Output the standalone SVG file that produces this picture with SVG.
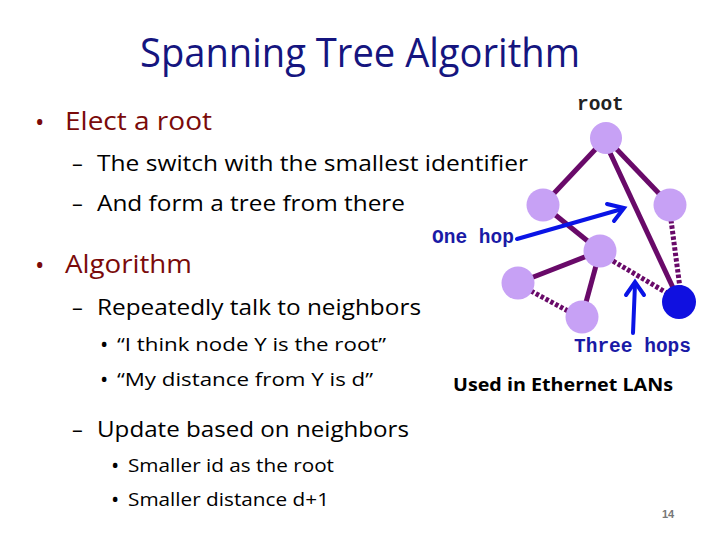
<svg xmlns="http://www.w3.org/2000/svg" width="720" height="540" viewBox="0 0 720 540">
<style>
.title{font-family:"Open Sans","Liberation Sans",sans-serif;font-size:40px;fill:#15157f}
.l1{font-family:"Open Sans","Liberation Sans",sans-serif;font-size:25px;fill:#7a0a0a}
.l2{font-family:"Open Sans","Liberation Sans",sans-serif;font-size:21.5px;fill:#000}
.l3{font-family:"Open Sans","Liberation Sans",sans-serif;font-size:18px;fill:#000}
.b3{font-family:"Open Sans","Liberation Sans",sans-serif;font-size:22px;fill:#000}
.mono{font-family:"Liberation Mono","Courier New",monospace;font-weight:bold;font-size:19.5px}
.note{font-family:"Open Sans","Liberation Sans",sans-serif;font-weight:bold;font-size:18px;fill:#000}
.edge{stroke:#690a69;stroke-width:5;fill:none}
.dot{stroke:#690a69;stroke-width:5;fill:none;stroke-dasharray:3.5 2}
.node{fill:#c7a1f5}
.arrow{stroke:#0a14e6;stroke-width:4;fill:none;stroke-linecap:round;stroke-linejoin:miter}
</style>
<rect width="720" height="540" fill="#fff"/>
<text class="title" x="140" y="67" textLength="440" lengthAdjust="spacingAndGlyphs">Spanning Tree Algorithm</text>
<g id="text-body">
<text class="l1" x="35" y="131" font-size="28">•</text>
<text class="l1" x="65" y="130" textLength="147" lengthAdjust="spacingAndGlyphs">Elect a root</text>
<text class="l2" x="72" y="171">–</text>
<text class="l2" x="97" y="171" textLength="431" lengthAdjust="spacingAndGlyphs">The switch with the smallest identifier</text>
<text class="l2" x="72" y="211">–</text>
<text class="l2" x="97" y="211" textLength="308" lengthAdjust="spacingAndGlyphs">And form a tree from there</text>
<text class="l1" x="35" y="274" font-size="28">•</text>
<text class="l1" x="65" y="273" textLength="127" lengthAdjust="spacingAndGlyphs">Algorithm</text>
<text class="l2" x="72" y="315">–</text>
<text class="l2" x="97" y="315" textLength="324" lengthAdjust="spacingAndGlyphs">Repeatedly talk to neighbors</text>
<text class="b3" x="100" y="352">•</text>
<text class="l3" x="117" y="351" textLength="269" lengthAdjust="spacingAndGlyphs">“I think node Y is the root”</text>
<text class="b3" x="100" y="387">•</text>
<text class="l3" x="117" y="386" textLength="256" lengthAdjust="spacingAndGlyphs">“My distance from Y is d”</text>
<text class="l2" x="72" y="437">–</text>
<text class="l2" x="97" y="437" textLength="312" lengthAdjust="spacingAndGlyphs">Update based on neighbors</text>
<text class="b3" x="111" y="473">•</text>
<text class="l3" x="128" y="472" textLength="206" lengthAdjust="spacingAndGlyphs">Smaller id as the root</text>
<text class="b3" x="111" y="507">•</text>
<text class="l3" x="128" y="506" textLength="201" lengthAdjust="spacingAndGlyphs">Smaller distance d+1</text>
</g>
<g id="connectors">
<line class="edge" x1="606" y1="138" x2="543" y2="205"/>
<line class="edge" x1="606" y1="138" x2="670" y2="205"/>
<line class="edge" x1="605" y1="142" x2="675" y2="292"/>
<line class="edge" x1="543" y1="205" x2="600" y2="251"/>
<line class="edge" x1="600" y1="251" x2="518" y2="283"/>
<line class="edge" x1="600" y1="251" x2="582" y2="317"/>
<line class="dot" x1="671" y1="220" x2="680" y2="288"/>
<line class="dot" x1="613" y1="261" x2="667" y2="293"/>
<line class="dot" x1="531" y1="291" x2="568" y2="311"/>
</g>
<g id="node-root"><circle class="node" cx="606" cy="138" r="16"/></g>
<g id="node-left"><circle class="node" cx="543" cy="205" r="16.5"/></g>
<g id="node-right"><circle class="node" cx="670" cy="205" r="16.5"/></g>
<g id="node-middle"><circle class="node" cx="600" cy="251" r="16.5"/></g>
<g id="node-farleft"><circle class="node" cx="518" cy="283" r="16.5"/></g>
<g id="node-bottom"><circle class="node" cx="582" cy="317" r="16.5"/></g>
<g id="node-blue"><circle cx="679" cy="302" r="17" fill="#1010e0"/></g>
<g id="labels">
<text class="mono" x="577" y="110" fill="#222">root</text>
<text class="mono" x="432" y="243" fill="#1a1aa6">One hop</text>
<text class="mono" x="574" y="352" fill="#1a1aa6">Three hops</text>
<text class="note" x="453" y="391" textLength="220" lengthAdjust="spacingAndGlyphs">Used in Ethernet LANs</text>
<text x="662" y="518" font-family="Liberation Sans,sans-serif" font-weight="bold" font-size="11" fill="#777">14</text>
</g>
<g id="arrows">
<line class="arrow" x1="517" y1="239" x2="622" y2="209"/>
<polyline class="arrow" points="607,204 624,208 614,221"/>
<line class="arrow" x1="633" y1="333" x2="635" y2="284"/>
<polyline class="arrow" points="626,295 635,282 644,295"/>
</g>
</svg>
